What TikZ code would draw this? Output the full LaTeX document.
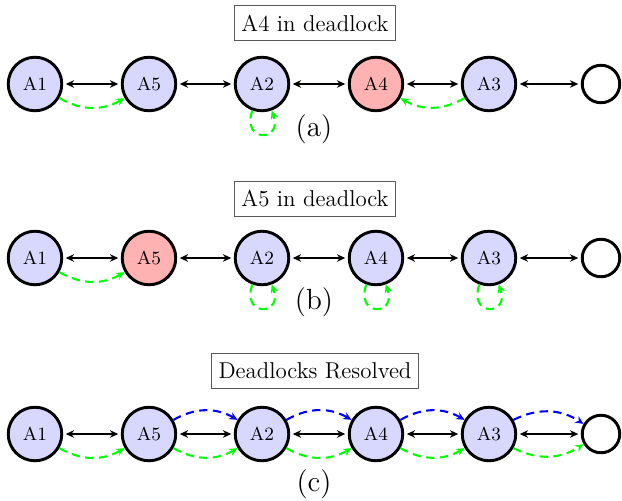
\documentclass[tikz,border=0pt]{standalone}
\usetikzlibrary{arrows.meta}
\definecolor{agentblue}{RGB}{216,216,255}
\definecolor{agentred}{RGB}{255,178,178}
\begin{document}
\begin{tikzpicture}[x=0.48pt,y=0.48pt,
  agent/.style={circle, draw, line width=1.4pt, minimum size=25.7pt, inner sep=0pt, fill=agentblue, font=\small},
  stuck/.style={agent, fill=agentred},
  slot/.style={circle, draw, line width=1.4pt, minimum size=18pt, inner sep=0pt, fill=white},
  caption/.style={draw=black!65, line width=0.5pt, inner xsep=3.4pt, minimum height=16.6pt, font=\fontsize{11}{13}\selectfont},
  sublabel/.style={font=\fontsize{14}{16}\selectfont},
  link/.style={{Stealth[length=4pt,width=3.6pt]}-{Stealth[length=4pt,width=3.6pt]}, line width=0.9pt, shorten <=1.2pt, shorten >=1.2pt},
  pass/.style={-{Stealth[length=4pt,width=3.6pt]}, line width=1pt, dash pattern=on 4pt off 2.6pt},
  fwd/.style={pass, green},
  hop/.style={pass, blue},
]
\useasboundingbox (0,0) rectangle (622,-500);

% ---- (a) A4 in deadlock ----
\node[caption] (ta) at (315,-23) {A4 in deadlock};
\node[agent] (a1) at (35,-84) {A1};
\node[agent] (a5) at (149,-84) {A5};
\node[agent] (a2) at (262,-84) {A2};
\node[stuck] (a4) at (376,-84) {A4};
\node[agent] (a3) at (489,-84) {A3};
\node[slot]  (a0) at (601,-84) {};
\draw[link] (a1) -- (a5);
\draw[link] (a5) -- (a2);
\draw[link] (a2) -- (a4);
\draw[link] (a4) -- (a3);
\draw[link] (a3) -- (a0);
\draw[fwd] (a1) to[bend right=30] (a5);
\draw[fwd] (a3) to[bend left=30] (a4);
\draw[fwd] (a2.-110) .. controls +(-110:34) and +(-70:34) .. (a2.-70);
\node[sublabel] (la) at (314,-129) {(a)};

% ---- (b) A5 in deadlock ----
\node[caption] (tb) at (315,-199) {A5 in deadlock};
\node[agent] (b1) at (35,-258) {A1};
\node[stuck] (b5) at (149,-258) {A5};
\node[agent] (b2) at (262,-258) {A2};
\node[agent] (b4) at (376,-258) {A4};
\node[agent] (b3) at (489,-258) {A3};
\node[slot]  (b0) at (601,-258) {};
\draw[link] (b1) -- (b5);
\draw[link] (b5) -- (b2);
\draw[link] (b2) -- (b4);
\draw[link] (b4) -- (b3);
\draw[link] (b3) -- (b0);
\draw[fwd] (b1) to[bend right=30] (b5);
\draw[fwd] (b2.-110) .. controls +(-110:34) and +(-70:34) .. (b2.-70);
\draw[fwd] (b4.-110) .. controls +(-110:34) and +(-70:34) .. (b4.-70);
\draw[fwd] (b3.-110) .. controls +(-110:34) and +(-70:34) .. (b3.-70);
\node[sublabel] (lb) at (314,-302) {(b)};

% ---- (c) Deadlocks resolved ----
\node[caption] (tc) at (315,-371) {Deadlocks Resolved};
\node[agent] (c1) at (35,-434) {A1};
\node[agent] (c5) at (149,-434) {A5};
\node[agent] (c2) at (262,-434) {A2};
\node[agent] (c4) at (376,-434) {A4};
\node[agent] (c3) at (489,-434) {A3};
\node[slot]  (c0) at (601,-434) {};
\draw[link] (c1) -- (c5);
\draw[link] (c5) -- (c2);
\draw[link] (c2) -- (c4);
\draw[link] (c4) -- (c3);
\draw[link] (c3) -- (c0);
\draw[fwd] (c1) to[bend right=30] (c5);
\draw[fwd] (c5) to[bend right=30] (c2);
\draw[fwd] (c2) to[bend right=30] (c4);
\draw[fwd] (c4) to[bend right=30] (c3);
\draw[fwd] (c3) to[bend right=30] (c0);
\draw[hop] (c5) to[bend left=30] (c2);
\draw[hop] (c2) to[bend left=30] (c4);
\draw[hop] (c4) to[bend left=30] (c3);
\draw[hop] (c3) to[bend left=30] (c0);
\node[sublabel] (lc) at (314,-484) {(c)};
\end{tikzpicture}
\end{document}
